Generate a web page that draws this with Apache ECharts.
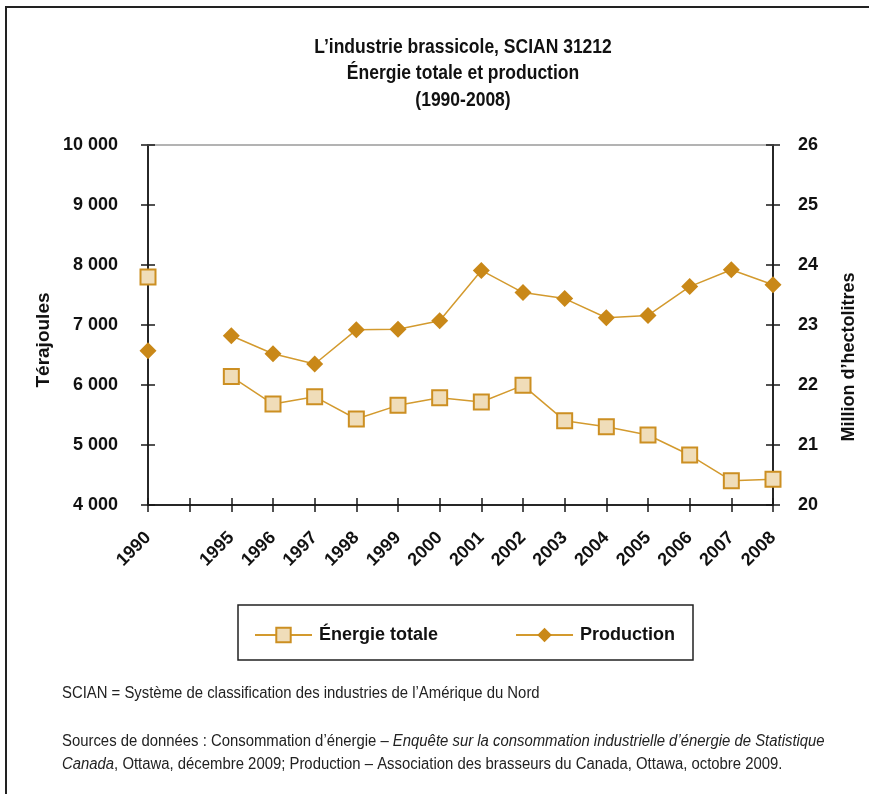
<!DOCTYPE html>
<html>
<head>
<meta charset="utf-8">
<script src="https://cdn.jsdelivr.net/npm/echarts@6/dist/echarts.min.js"></script>
<style>
  html, body { margin: 0; padding: 0; background: #fff; }
  #chart { width: 869px; height: 794px; }
</style>
</head>
<body>
<div id="chart"></div>
<script>
// Years on the category axis (blank slot between 1990 and 1995)
const years = ['1990', '', '1995', '1996', '1997', '1998', '1999', '2000', '2001',
               '2002', '2003', '2004', '2005', '2006', '2007', '2008'];
// Énergie totale, térajoules
const energie = [7800, null, 6140, 5683, 5805, 5433, 5661, 5788, 5717,
                 5994, 5406, 5306, 5167, 4833, 4405, 4428];
// Production, millions d'hectolitres
const production = [22.57, null, 22.82, 22.52, 22.35, 22.92, 22.93, 23.07, 23.91,
                    23.54, 23.44, 23.12, 23.16, 23.64, 23.92, 23.67];

const FONT = '"Liberation Sans", Arial, sans-serif';
const LINE = '#D39A2E';
const SQUARE_FILL = '#F0DDB9';
const SQUARE_EDGE = '#CC8F22';
const DIAMOND = '#C98818';
const AXIS = '#1a1a1a';

const fmtThousands = v => String(v).replace(/\B(?=(\d{3})+(?!\d))/g, ' ');

const chart = echarts.init(document.getElementById('chart'));

const baseX = {
  type: 'category', data: years, boundaryGap: false,
  axisLine: { lineStyle: { color: AXIS, width: 1.5 } },
  axisTick: { show: true, interval: 0, length: 7, lineStyle: { color: AXIS, width: 1.5 } },
  splitLine: { show: false }
};

chart.setOption({
  animation: false,
  textStyle: { fontFamily: FONT },
  grid: { left: 148, right: 96, top: 145, bottom: 289, containLabel: false },
  xAxis: [
    Object.assign({}, baseX, {
      position: 'bottom',
      axisLabel: {
        interval: 0, rotate: 45, margin: 30,
        fontFamily: FONT, fontWeight: 'bold', fontSize: 18, color: '#111'
      }
    }),
    Object.assign({}, baseX, {
      position: 'bottom',
      axisTick: { show: true, interval: 0, inside: true, length: 7, lineStyle: { color: AXIS, width: 1.5 } },
      axisLabel: { show: false }
    }),
    Object.assign({}, baseX, {
      position: 'top',
      axisLine: { lineStyle: { color: '#b3b3b3', width: 2 } },
      axisTick: { show: false },
      axisLabel: { show: false }
    })
  ],
  yAxis: [
    {
      type: 'value', position: 'left', min: 4000, max: 10000, interval: 1000,
      axisLine: { show: true, lineStyle: { color: AXIS, width: 1.5 } },
      axisTick: { show: true, length: 7, lineStyle: { color: AXIS, width: 1.5 } },
      splitLine: { show: false },
      axisLabel: {
        margin: 30, formatter: fmtThousands,
        fontFamily: FONT, fontWeight: 'bold', fontSize: 18, color: '#111'
      }
    },
    {
      type: 'value', position: 'left', min: 4000, max: 10000, interval: 1000,
      axisLine: { show: true, lineStyle: { color: AXIS, width: 1.5 } },
      axisTick: { show: true, inside: true, length: 7, lineStyle: { color: AXIS, width: 1.5 } },
      splitLine: { show: false }, axisLabel: { show: false }
    },
    {
      type: 'value', position: 'right', min: 20, max: 26, interval: 1,
      axisLine: { show: true, lineStyle: { color: AXIS, width: 1.5 } },
      axisTick: { show: true, length: 7, lineStyle: { color: AXIS, width: 1.5 } },
      splitLine: { show: false },
      axisLabel: {
        margin: 25,
        fontFamily: FONT, fontWeight: 'bold', fontSize: 18, color: '#111'
      }
    },
    {
      type: 'value', position: 'right', min: 20, max: 26, interval: 1,
      axisLine: { show: true, lineStyle: { color: AXIS, width: 1.5 } },
      axisTick: { show: true, inside: true, length: 7, lineStyle: { color: AXIS, width: 1.5 } },
      splitLine: { show: false }, axisLabel: { show: false }
    }
  ],
  legend: {
    left: 254, top: 626, padding: 0,
    itemWidth: 57, itemHeight: 18, itemGap: 77,
    textStyle: { fontFamily: FONT, fontWeight: 'bold', fontSize: 18, color: '#111', padding: [0, 0, 0, 2] },
    data: ['Énergie totale', 'Production']
  },
  series: [
    {
      name: 'Énergie totale', type: 'line', xAxisIndex: 0, yAxisIndex: 0,
      data: energie, connectNulls: false,
      symbol: 'rect', symbolSize: 15, showAllSymbol: true,
      lineStyle: { color: LINE, width: 1.5 },
      itemStyle: { color: SQUARE_FILL, borderColor: SQUARE_EDGE, borderWidth: 2 },
      z: 3
    },
    {
      name: 'Production', type: 'line', xAxisIndex: 0, yAxisIndex: 2,
      data: production, connectNulls: false,
      symbol: 'diamond', symbolSize: 17, showAllSymbol: true,
      lineStyle: { color: LINE, width: 1.5 },
      itemStyle: { color: DIAMOND, borderWidth: 0 },
      z: 4
    }
  ],
  graphic: [
    // frame around the figure
    { type: 'rect', shape: { x: 6, y: 7, width: 900, height: 900 },
      style: { fill: 'none', stroke: '#222', lineWidth: 2 }, silent: true },
    // title (condensed look through a horizontal squeeze)
    { type: 'text', x: 463, y: 34, scaleX: 0.875,
      style: {
        text: 'L\u2019industrie brassicole, SCIAN 31212\nÉnergie totale et production\n(1990-2008)',
        fontFamily: FONT, fontWeight: 'bold', fontSize: 20, lineHeight: 26.5,
        fill: '#111', textAlign: 'center', textVerticalAlign: 'top'
      } },
    // axis titles
    { type: 'text', x: 44, y: 340, rotation: Math.PI / 2,
      style: { text: 'Térajoules', fontFamily: FONT, fontWeight: 'bold', fontSize: 19,
               fill: '#111', textAlign: 'center', textVerticalAlign: 'middle' } },
    { type: 'text', x: 849, y: 357, rotation: Math.PI / 2,
      style: { text: 'Million d\u2019hectolitres', fontFamily: FONT, fontWeight: 'bold', fontSize: 18,
               fill: '#111', textAlign: 'center', textVerticalAlign: 'middle' } },
    // legend frame
    { type: 'rect', shape: { x: 238, y: 605, width: 455, height: 55 },
      style: { fill: 'none', stroke: '#222', lineWidth: 1.5 }, silent: true },
    // notes
    { type: 'text', x: 62, y: 694, scaleX: 0.93,
      style: { text: 'SCIAN = Système de classification des industries de l\u2019Amérique du Nord',
               fontFamily: FONT, fontSize: 16, fill: '#222', textVerticalAlign: 'middle' } },
    { type: 'text', x: 62, y: 730, scaleX: 0.93,
      style: {
        text: '{n|Sources de données : Consommation d\u2019énergie \u2013 }{i|Enquête sur la consommation industrielle d\u2019énergie de Statistique}\n' +
              '{i|Canada}{n|, Ottawa, décembre 2009; Production \u2013 Association des brasseurs du Canada, Ottawa, octobre 2009.}',
        rich: {
          n: { fontFamily: FONT, fontSize: 16, fill: '#222', lineHeight: 23 },
          i: { fontFamily: FONT, fontSize: 16, fontStyle: 'italic', fill: '#222', lineHeight: 23 }
        },
        textVerticalAlign: 'top'
      } }
  ]
});
</script>
</body>
</html>
